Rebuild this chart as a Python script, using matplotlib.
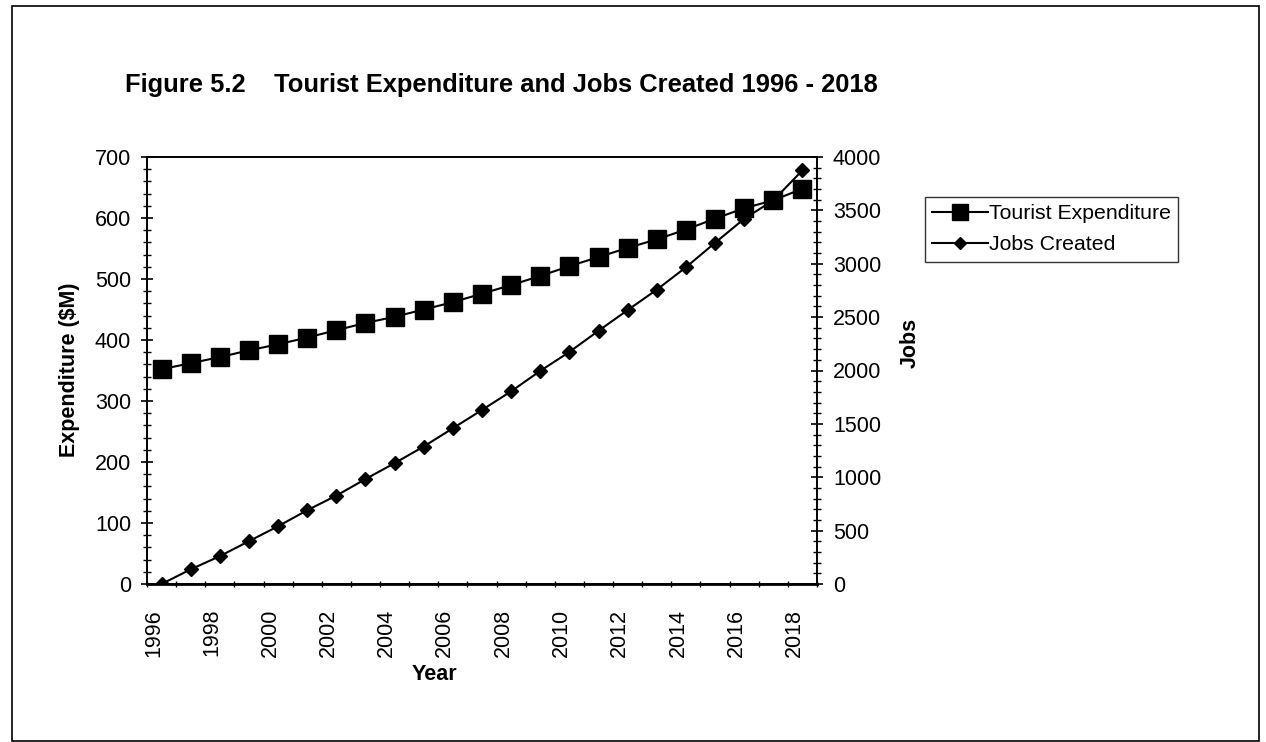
import matplotlib
matplotlib.use("Agg")
import matplotlib.pyplot as plt
import matplotlib.transforms as mtransforms
from matplotlib.patches import Rectangle
from matplotlib.ticker import MultipleLocator, FixedLocator

plt.rcParams['font.family'] = ['Liberation Sans', 'DejaVu Sans']

# data
years = list(range(1996, 2019))
expenditure = [352, 362, 372, 383, 393, 404, 416, 428, 438, 450, 462, 476,
               490, 505, 521, 536, 551, 565, 581, 599, 616, 629, 648]
jobs = [0, 137, 261, 401, 541, 691, 828, 983, 1132, 1288, 1459, 1630,
        1805, 1996, 2174, 2372, 2566, 2757, 2967, 3196, 3421, 3594, 3875]
tick_labels = [str(y) for y in years[::2]]

W, H = 1266, 742
fig = plt.figure(figsize=(W / 100, H / 100), dpi=100)

# outer frame
fig.patches.append(Rectangle((12 / W, 1 / H), (1259 - 12) / W, (736 - 1) / H,
                             transform=fig.transFigure, fill=False,
                             edgecolor='black', linewidth=1.2))

ax = fig.add_axes([147 / W, 1 - 584 / H, (817 - 147) / W, (584 - 157) / H])
ax2 = ax.twinx()

x = list(range(len(years)))
ax.plot(x, expenditure, color='black', lw=1.5, marker='s', ms=13,
        label='Tourist Expenditure')
ax2.plot(x, jobs, color='black', lw=1.5, marker='D', ms=7.5,
         label='Jobs Created')

ax.set_xlim(-0.5, len(years) - 0.5)
ax.set_ylim(0, 700)
ax2.set_ylim(0, 4000)

ax.xaxis.set_major_locator(FixedLocator(x[::2]))
ax.set_xticklabels(tick_labels, rotation=90, fontsize=15.5)
ax.xaxis.set_minor_locator(FixedLocator([i - 0.5 for i in range(len(years) + 1)]))
ax.tick_params(axis='x', which='major', length=0, pad=18)
ax.tick_params(axis='x', which='minor', direction='inout', length=5, width=1)
shift = mtransforms.ScaledTranslation(-8 / 100, 0, fig.dpi_scale_trans)
for lab in ax.get_xticklabels():
    lab.set_transform(lab.get_transform() + shift)

ax.yaxis.set_major_locator(MultipleLocator(100))
ax.yaxis.set_minor_locator(MultipleLocator(20))
ax2.yaxis.set_major_locator(MultipleLocator(500))
ax2.yaxis.set_minor_locator(MultipleLocator(100))
for a in (ax, ax2):
    a.tick_params(axis='y', which='major', direction='inout', length=9,
                  width=1.2, labelsize=15.5, pad=7)
    a.tick_params(axis='y', which='minor', direction='inout', length=6, width=1)
    for s in a.spines.values():
        s.set_linewidth(1.2)
ax.spines['bottom'].set_linewidth(2)

fig.text(125 / W, 1 - 85 / H,
         'Figure 5.2    Tourist Expenditure and Jobs Created 1996 - 2018',
         fontsize=18.4, fontweight='bold', va='center', ha='left')
fig.text(70 / W, 1 - 370 / H, 'Expenditure ($M)', rotation=90, fontsize=15.5,
         fontweight='bold', va='center', ha='center')
fig.text(910 / W, 1 - 343 / H, 'Jobs', rotation=90, fontsize=15.5,
         fontweight='bold', va='center', ha='center')
fig.text(434 / W, 1 - 674 / H, 'Year', fontsize=15.5, fontweight='bold',
         va='center', ha='center')

h1, l1 = ax.get_legend_handles_labels()
h2, l2 = ax2.get_legend_handles_labels()
leg = fig.legend(h1 + h2, l1 + l2, loc='upper left',
                 bbox_to_anchor=(925 / W, 1 - 197 / H), fontsize=15.3,
                 frameon=True, fancybox=False, handlelength=2.6,
                 handletextpad=0.05, borderpad=0.35, labelspacing=0.55,
                 borderaxespad=0, markerscale=0.85)
leg.get_frame().set_edgecolor('black')
leg.get_frame().set_linewidth(1)

fig.savefig('out.png', dpi=100)
